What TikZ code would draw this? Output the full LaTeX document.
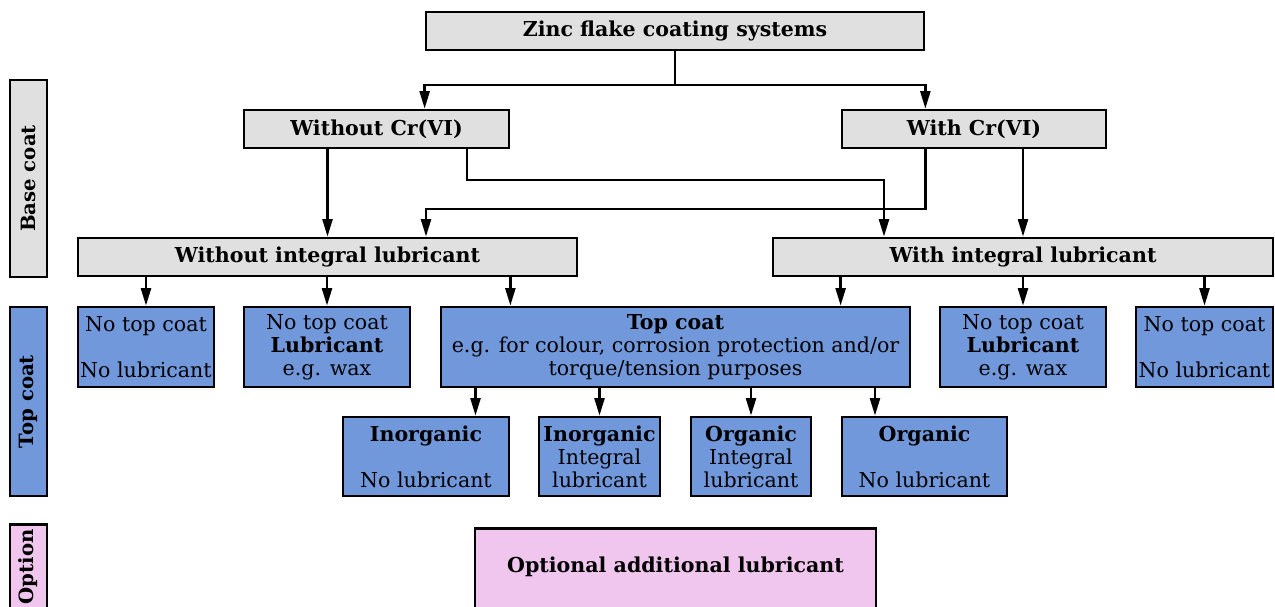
\documentclass[tikz,border=0pt]{standalone}
\usepackage{fontspec}
\setmainfont{DejaVu Serif}
\usetikzlibrary{arrows.meta, calc}
\definecolor{basegray}{RGB}{224,224,224}
\definecolor{topblue}{RGB}{114,152,220}
\definecolor{optpink}{RGB}{240,198,238}

\begin{document}
\begin{tikzpicture}[
  x=0.02cm, y=-0.02cm,
  font=\fontsize{11.7}{13.1}\selectfont,
  box/.style={
    rectangle, draw, line width=1.6pt, align=center, inner sep=0pt
  },
  basebox/.style={box, fill=basegray, minimum height=0.76cm,
                  font=\fontsize{11.7}{13.1}\selectfont\bfseries},
  topbox/.style ={box, fill=topblue, minimum height=1.6cm},
  subbox/.style ={box, fill=topblue, minimum height=1.58cm},
  optbox/.style ={box, fill=optpink, font=\fontsize{11.7}{13.1}\selectfont\bfseries},
  sidebox/.style={box, rotate=90, minimum height=0.74cm,
                  font=\fontsize{11.2}{13.1}\selectfont\bfseries},
  arrow/.style  ={-{Triangle[length=3.5mm,width=2mm]}, line width=1.35pt},
  link/.style   ={line width=1.35pt}
]
\useasboundingbox (0,0) rectangle (1275,606);
\clip (0,0) rectangle (1275,606);

% Side labels
\node[sidebox, fill=basegray, minimum width=3.94cm] (lbase) at (28.5,178.5) {Base coat};
\node[sidebox, fill=topblue,  minimum width=3.78cm] (ltop)  at (28.5,401.5) {Top coat};
\node[sidebox, fill=optpink,  minimum width=1.7cm]  (lopt)  at (28.5,567)   {Option};

% Row 0 — system
\node[basebox, minimum width=9.96cm] (zinc) at (675,31) {Zinc flake coating systems};

% Row 1 — Cr(VI)
\node[basebox, minimum width=5.3cm]  (nocr) at (376.5,129) {Without Cr(VI)};
\node[basebox, minimum width=5.28cm] (cr)   at (974,129)   {With Cr(VI)};

% Row 2 — integral lubricant
\node[basebox, minimum width=9.98cm] (nolub) at (327.5,257) {Without integral lubricant};
\node[basebox, minimum width=10cm]   (lub)   at (1023,257)  {With integral lubricant};

% Row 3 — top coat
\node[topbox, minimum width=2.72cm] (bare1) at (146,347)    {No top coat\\[13.1pt]No lubricant};
\node[topbox, minimum width=3.32cm] (wax1)  at (327,347)    {No top coat\\\textbf{Lubricant}\\e.g. wax};
\node[topbox, minimum width=9.38cm] (tc)    at (675.5,347)  {\textbf{Top coat}\\e.g. for colour, corrosion protection and/or\\torque/tension purposes};
\node[topbox, minimum width=3.32cm] (wax2)  at (1023,347)   {No top coat\\\textbf{Lubricant}\\e.g. wax};
\node[topbox, minimum width=2.74cm] (bare2) at (1204.5,347) {No top coat\\[13.1pt]No lubricant};

% Row 4 — top coat types
\node[subbox, minimum width=3.32cm] (inorg)  at (426,456.5)   {\textbf{Inorganic}\\[13.1pt]No lubricant};
\node[subbox, minimum width=2.42cm] (inorgl) at (599.5,456.5) {\textbf{Inorganic}\\Integral\\lubricant};
\node[subbox, minimum width=2.4cm]  (orgl)   at (751,456.5)   {\textbf{Organic}\\Integral\\lubricant};
\node[subbox, minimum width=3.3cm]  (org)    at (924.5,456.5) {\textbf{Organic}\\[13.1pt]No lubricant};

% Row 5 — option (box runs past the lower edge)
\node[optbox, anchor=north, minimum width=8.02cm, minimum height=1.8cm, text depth=0.33cm]
  (opt) at (675.5,527) {Optional additional lubricant};

% Helper points
\coordinate (split)  at (675,85);
\coordinate (cross1) at (467,180);
\coordinate (cross2) at (884,180);
\coordinate (cross3) at (426,209);
\coordinate (in1) at ($(inorg.north)+(49.5,0)$);
\coordinate (in4) at ($(org.north)+(-49.5,0)$);

% Row 0 arrows
\draw[link]  (zinc) -- (split);
\draw[arrow] (split) -| (nocr.north -| zinc.west);
\draw[arrow] (split) -| (cr.north -| zinc.east);

% Row 1 -> Row 2
\draw[arrow] (nocr.south -| nolub.north) -- (nolub.north);
\draw[arrow] (nocr.south -| cross1) |- (cross2) -- (lub.north -| cross2);
\draw[arrow] (cr.south -| zinc.east) |- (cross3) -- (nolub.north -| cross3);
\draw[arrow] (cr.south -| lub.north) -- (lub.north);

% Row 2 -> Row 3
\draw[arrow] (nolub.south -| bare1.north) -- (bare1.north);
\draw[arrow] (nolub.south -| wax1.north)  -- (wax1.north);
\draw[arrow] (nolub.south -| nocr.east)   -- (tc.north -| nocr.east);
\draw[arrow] (lub.south -| cr.west)       -- (tc.north -| cr.west);
\draw[arrow] (lub.south -| wax2.north)    -- (wax2.north);
\draw[arrow] (lub.south -| bare2.north)   -- (bare2.north);

% Row 3 -> Row 4
\draw[arrow] (tc.south -| in1)           -- (in1);
\draw[arrow] (tc.south -| inorgl.north)  -- (inorgl.north);
\draw[arrow] (tc.south -| orgl.north)    -- (orgl.north);
\draw[arrow] (tc.south -| in4)           -- (in4);

\end{tikzpicture}
\end{document}
